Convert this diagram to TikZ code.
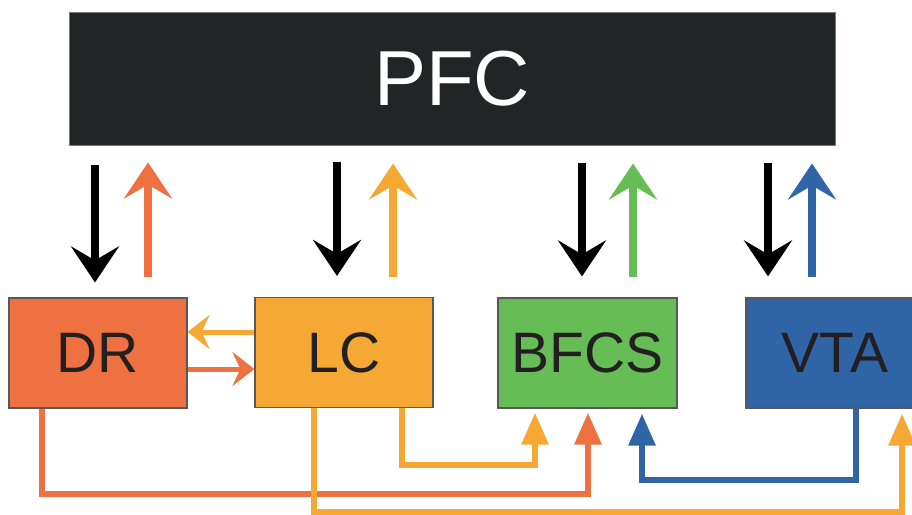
\documentclass[tikz,border=0pt]{standalone}
\usepackage{fontspec}
\setmainfont{Liberation Sans}
\usetikzlibrary{arrows.meta}

\definecolor{cDR}{HTML}{EE7142}
\definecolor{cLC}{HTML}{F5A834}
\definecolor{cBF}{HTML}{66BD55}
\definecolor{cVT}{HTML}{2F64A6}
\definecolor{cPF}{HTML}{222525}
\definecolor{ink}{HTML}{231F20}

\tikzset{
  area/.style={draw=ink!75, line width=1.2pt, inner sep=0pt,
    minimum width=178pt, minimum height=110pt, text=ink,
    font=\fontsize{57}{60}\selectfont},
  bigtip/.style={-{Stealth[length=36pt,width=48pt,inset=14pt]}, line width=8pt},
  midtip/.style={-{Stealth[length=22pt,width=34pt,inset=8pt]}, line width=5pt},
  lowtip/.style={-{Triangle[length=32pt,width=26pt]}, line width=6pt},
}

\begin{document}
\begin{tikzpicture}[x=1pt, y=-1pt]
  \useasboundingbox (0,0) rectangle (912,514);
  \clip (0,0) rectangle (912,514);

  % top region
  \node[fill=cPF, draw=ink!60, line width=1pt, minimum width=766pt, minimum height=133pt,
        inner sep=0pt, text=white, font=\fontsize{78}{82}\selectfont] (PFC) at (452,78.5) {PFC};

  % lower regions
  \node[area, fill=cDR] (DR)   at (98,353)    {DR};
  \node[area, fill=cLC] (LC)   at (344,352.5) {LC};
  \node[area, fill=cBF, minimum width=179pt] (BFCS) at (587.5,353) {BFCS};
  \node[area, fill=cVT] (VTA)  at (835,353)   {VTA};

  % column positions for the vertical pairs
  \coordinate (k1) at (95,0);   \coordinate (u1) at (148,0);
  \coordinate (k2) at (337,0);  \coordinate (u2) at (393,0);
  \coordinate (k3) at (582,0);  \coordinate (u3) at (633,0);
  \coordinate (k4) at (768,0);  \coordinate (u4) at (812,0);

  % PFC -> region (black) and region -> PFC (coloured)
  \draw[bigtip, black, shorten <=19pt, shorten >=15pt] (PFC.south -| k1) -- (DR.north -| k1);
  \draw[bigtip, cDR,   shorten <=20pt, shorten >=17pt] (DR.north -| u1) -- (PFC.south -| u1);
  \draw[bigtip, black, shorten <=16pt, shorten >=21pt] (PFC.south -| k2) -- (LC.north -| k2);
  \draw[bigtip, cLC,   shorten <=20pt, shorten >=18pt] (LC.north -| u2) -- (PFC.south -| u2);
  \draw[bigtip, black, shorten <=17pt, shorten >=21pt] (PFC.south -| k3) -- (BFCS.north -| k3);
  \draw[bigtip, cBF,   shorten <=20pt, shorten >=18pt] (BFCS.north -| u3) -- (PFC.south -| u3);
  \draw[bigtip, black, shorten <=17pt, shorten >=21pt] (PFC.south -| k4) -- (VTA.north -| k4);
  \draw[bigtip, cVT,   shorten <=20pt, shorten >=18pt] (VTA.north -| u4) -- (PFC.south -| u4);

  % DR <-> LC
  \coordinate (r1) at (0,332);
  \coordinate (r2) at (0,369);
  \draw[midtip, cLC] (LC.west |- r1) -- (DR.east |- r1);
  \draw[midtip, cDR] (DR.east |- r2) -- (LC.west |- r2);

  % routes underneath into BFCS and VTA
  \draw[lowtip, cLC] ([xshift=58pt]LC.south) -- ++(0,57)
        -| ([xshift=-52.5pt,yshift=-4pt]BFCS.south);
  \draw[lowtip, cDR] ([xshift=-56pt]DR.south) -- ++(0,85)
        -| ([xshift=0.5pt,yshift=-4pt]BFCS.south);
  \draw[lowtip, cVT] ([xshift=21pt]VTA.south) -- ++(0,71)
        -| ([xshift=54.5pt,yshift=-5pt]BFCS.south);
  \draw[lowtip, cLC] ([xshift=-30pt]LC.south) -- ++(0,104)
        -| ([xshift=67pt,yshift=-5pt]VTA.south);
\end{tikzpicture}
\end{document}
